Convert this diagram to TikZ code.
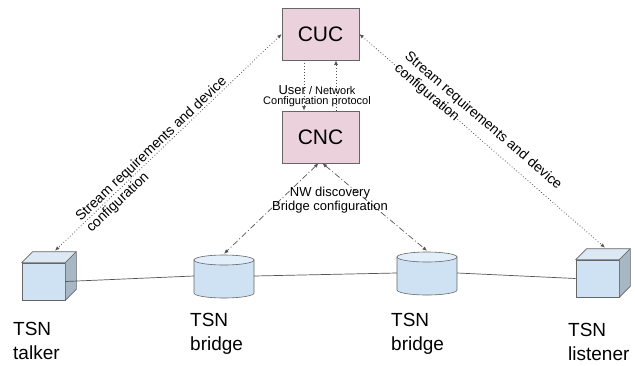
\documentclass[tikz,border=0pt]{standalone}
\usepackage{fontspec}
\setmainfont{Liberation Sans}
\usetikzlibrary{arrows.meta,calc}
\definecolor{pinkbox}{HTML}{EAD1DC}
\definecolor{edgegray}{HTML}{666666}
\definecolor{frontface}{HTML}{CFE2F3}
\definecolor{topface}{HTML}{DCE9F5}
\definecolor{sideface}{HTML}{A8B7C4}
\definecolor{cyltop}{HTML}{E2EEF9}
\definecolor{linegray}{HTML}{555555}
\begin{document}
\begin{tikzpicture}[x=1pt,y=-1pt,
  ctrl/.style={draw=edgegray, fill=pinkbox, minimum width=77pt, minimum height=52pt, inner sep=0pt, line width=0.6pt, font=\fontsize{21}{21}\selectfont},
  cubefront/.style={draw=edgegray, fill=frontface, minimum width=43pt, minimum height=37pt, inner sep=0pt, line width=0.6pt},
  cubeface/.style={draw=edgegray, line width=0.6pt, line join=round},
  bridgebox/.style={minimum width=60pt, minimum height=44pt, inner sep=0pt},
  link/.style={draw=linegray, line width=0.7pt},
  tipa/.tip={Latex[length=4.5pt,width=3.8pt]},
  dotline/.style={draw=linegray, line width=0.8pt, dash pattern=on 0.8pt off 2.2pt},
  dashdotline/.style={draw=linegray, line width=0.7pt, dash pattern=on 6pt off 2.5pt on 1pt off 2.5pt},
  lbl/.style={align=left, inner sep=0pt, font=\fontsize{14}{15.5}\selectfont},
  tsn/.style={anchor=north west, align=left, inner sep=0pt, font=\fontsize{19}{24}\selectfont}
]
\useasboundingbox (0,0) rectangle (635,365);
\fill[white] (0,0) rectangle (635,365);

% controllers
\node[ctrl] (cuc) at (320.5,34) {CUC};
\node[ctrl] (cnc) at (320.5,137) {CNC};

% end stations (cubes)
\node[cubefront] (talker) at (43.5,281.5) {};
\draw[cubeface, fill=topface] (talker.north west) -- ++(11,-11) -- ($(talker.north east)+(11,-11)$) -- (talker.north east) -- cycle;
\draw[cubeface, fill=sideface] (talker.north east) -- ++(11,-11) -- ($(talker.south east)+(11,-11)$) -- (talker.south east) -- cycle;

\node[cubefront] (listener) at (597.5,278.5) {};
\draw[cubeface, fill=topface] (listener.north west) -- ++(11,-11) -- ($(listener.north east)+(11,-11)$) -- (listener.north east) -- cycle;
\draw[cubeface, fill=sideface] (listener.north east) -- ++(11,-11) -- ($(listener.south east)+(11,-11)$) -- (listener.south east) -- cycle;

% bridges (cylinders)
\node[bridgebox] (b1) at (224,276) {};
\begin{scope}[shift={(b1.center)}]
  \path[draw=edgegray, line width=0.6pt, fill=frontface] (-30,-16) -- (-30,17) arc[start angle=180, end angle=0, x radius=30, y radius=5] -- (30,-16) -- cycle;
  \draw[edgegray, line width=0.6pt, fill=cyltop] (0,-16) ellipse[x radius=30, y radius=5];
\end{scope}
\node[bridgebox] (b2) at (427,273) {};
\begin{scope}[shift={(b2.center)}]
  \path[draw=edgegray, line width=0.6pt, fill=frontface] (-30,-16) -- (-30,17) arc[start angle=180, end angle=0, x radius=30, y radius=5] -- (30,-16) -- cycle;
  \draw[edgegray, line width=0.6pt, fill=cyltop] (0,-16) ellipse[x radius=30, y radius=5];
\end{scope}

% physical links
\draw[link] (talker.east) -- (b1.west);
\draw[link] (b1.east) -- (b2.west);
\draw[link] (b2.east) -- (listener.west);

% cube top contact points
\coordinate (ttop) at ($(talker.north)+(11.5,-12)$);
\coordinate (ltop) at ($(listener.north)+(7.5,-12)$);

% management connectors
\draw[dotline, {tipa}-{tipa}] (cuc.west) -- (ttop);
\draw[dotline, {tipa}-{tipa}] (cuc.east) -- (ltop);
\draw[dotline, -{tipa}] ([xshift=-16.5pt]cuc.south) -- ([xshift=-16.5pt]cnc.north);
\draw[dotline, -{tipa}] ([xshift=15.5pt]cnc.north) -- ([xshift=15.5pt]cuc.south);
\draw[dashdotline, {tipa}-{tipa}] ([xshift=-2pt]cnc.south) -- (b1.north);
\draw[dashdotline, {tipa}-{tipa}] ([xshift=2pt]cnc.south) -- (b2.north);

% labels
\node[lbl, rotate=43.6] (sl) at (157,155) {Stream requirements and device\\configuration};
\node[lbl, rotate=-40.7] (sr) at (478,127) {Stream requirements and device\\configuration};
\node[align=center, inner sep=0pt, font=\fontsize{11}{10.5}\selectfont] (unc) at (317,96) {{\fontsize{13}{13}\selectfont User} / Network\\Configuration protocol};
\node[align=center, inner sep=0pt, font=\fontsize{13}{14}\selectfont] (nwd) at (330,200) {NW discovery\\Bridge configuration};

\node[tsn] (lt) at (13,322) {TSN\\talker};
\node[tsn] (lb1) at (190,313) {TSN\\bridge};
\node[tsn] (lb2) at (391,313) {TSN\\bridge};
\node[tsn] (ll) at (568,323) {TSN\\listener};
\end{tikzpicture}
\end{document}
